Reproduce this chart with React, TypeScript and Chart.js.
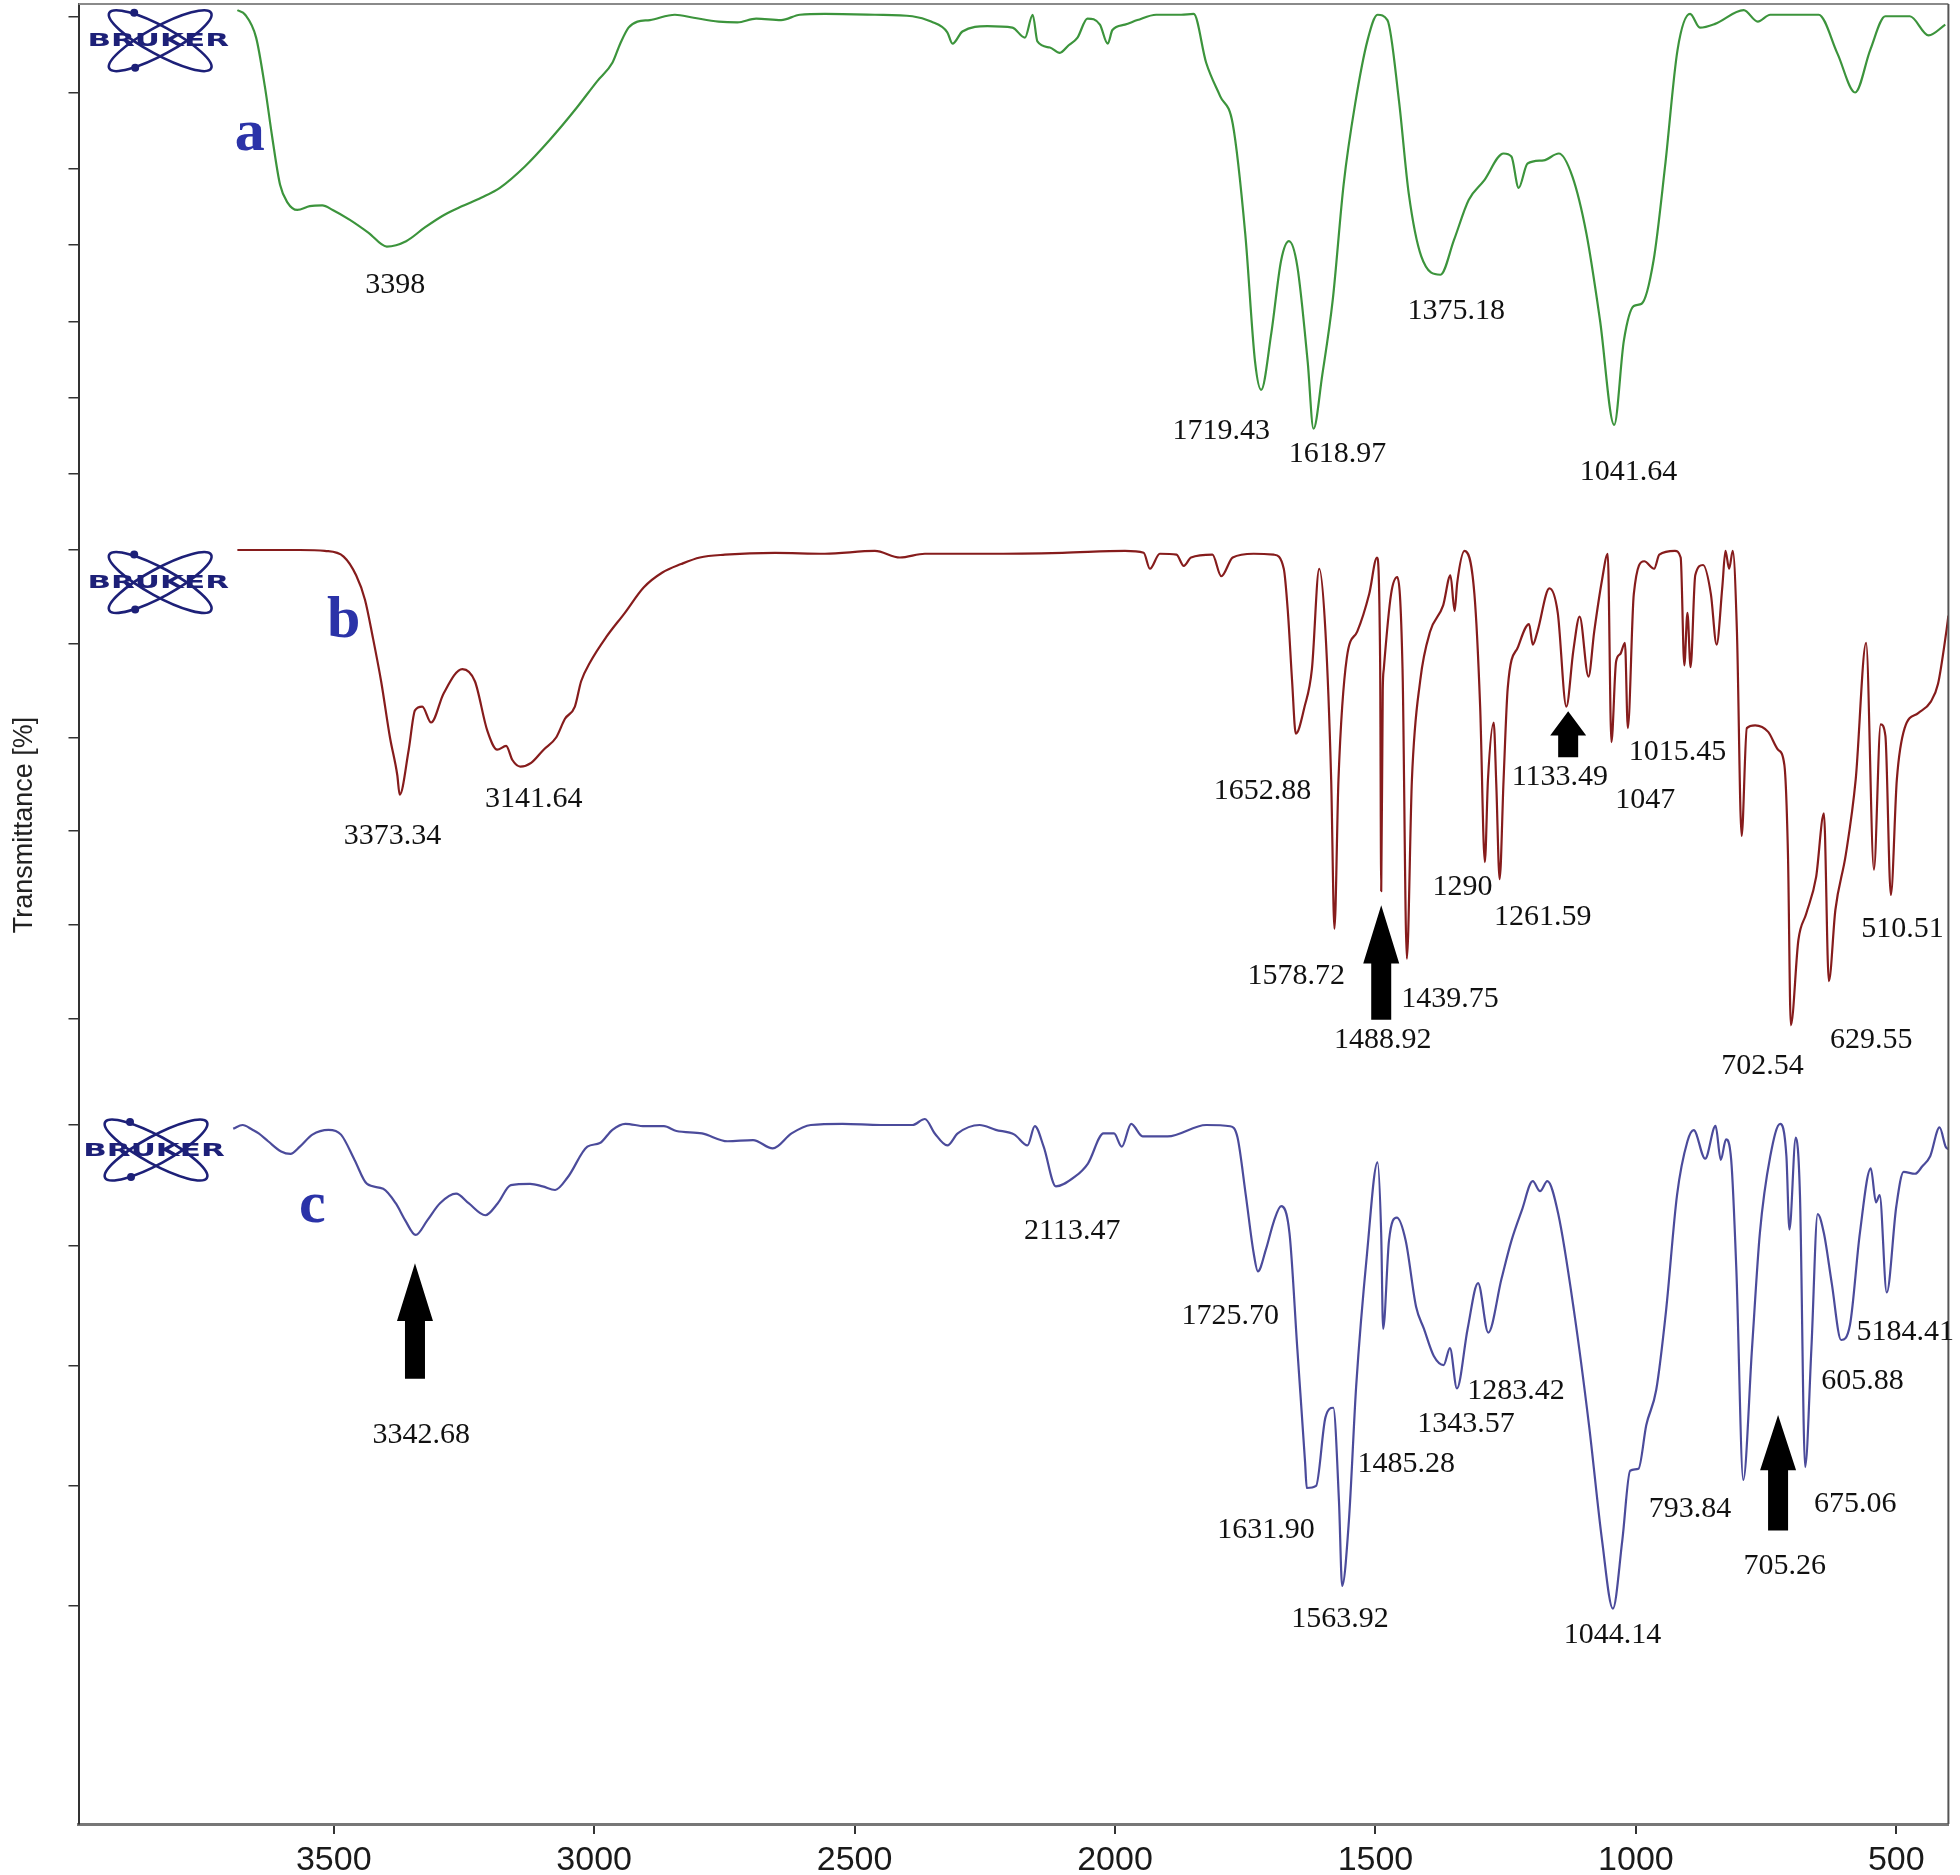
import React, { useEffect, useRef } from 'react';
import { Chart, registerables } from 'chart.js';

Chart.register(...registerables);

// ---------- axes ----------
const X_TICKS = [3500, 3000, 2500, 2000, 1500, 1000, 500];
const YA_TICKS = [100, 90, 80, 70, 60, 50, 40];
const YB_TICKS = [100, 90, 80, 70, 60, 50];
const YC_TICKS = [100, 90, 80, 70, 60];

// ---------- spectrum a ----------
const WN_A = [3685, 3670, 3649, 3632, 3618, 3603, 3589, 3570, 3546, 3522, 3502, 3469, 3433, 3398, 3361, 3325, 3289, 3253, 3217, 3181, 3133, 3085, 3037, 2994, 2965, 2950, 2934, 2917, 2893, 2845, 2809, 2761, 2725, 2689, 2641, 2605, 2557, 2461, 2389, 2353, 2322, 2312, 2293, 2245, 2197, 2173, 2158, 2149, 2125, 2106, 2089, 2072, 2053, 2029, 2014, 2005, 1981, 1957, 1921, 1873, 1849, 1825, 1798, 1774, 1750, 1731, 1719.43, 1700, 1681, 1666, 1650, 1630, 1618.97, 1602, 1582, 1561, 1539, 1515, 1496, 1477, 1455, 1436, 1412, 1375.18, 1349, 1321, 1292, 1254, 1239, 1225, 1208, 1177, 1148, 1122, 1095, 1069, 1041.64, 1023, 1004, 989, 966, 944, 920, 896, 877, 848, 793, 766, 742, 649, 613, 579, 550, 521, 474, 438, 406];
const T_A = [100.8, 100.2, 97.2, 90.7, 84.1, 77.9, 75.6, 74.6, 75.1, 75.2, 74.6, 73.3, 71.6, 69.8, 70.5, 72.3, 73.9, 75.1, 76.2, 77.5, 80.3, 83.8, 87.7, 91.5, 93.9, 96.4, 98.5, 99.3, 99.5, 100.2, 99.8, 99.3, 99.2, 99.7, 99.5, 100.2, 100.3, 100.2, 100.0, 99.3, 97.9, 96.4, 98.0, 98.7, 98.5, 97.2, 100.2, 96.7, 95.9, 95.2, 96.2, 97.2, 99.7, 98.9, 96.4, 98.2, 98.9, 99.5, 100.2, 100.2, 100.3, 93.9, 89.5, 85.9, 71.5, 54.6, 51.0, 58.4, 68.0, 70.5, 67.2, 54.6, 45.9, 53.0, 62.8, 78.0, 88.5, 96.9, 100.2, 99.5, 89.0, 76.7, 68.5, 66.1, 70.7, 75.9, 78.4, 82.0, 81.6, 77.5, 80.7, 81.1, 82.0, 79.0, 71.5, 60.2, 46.4, 57.5, 62.0, 62.3, 68.0, 80.3, 95.6, 100.3, 98.5, 99.0, 100.8, 99.3, 100.2, 100.2, 95.1, 90.0, 95.6, 100.0, 100.0, 97.5, 98.9];

// ---------- spectrum b ----------
const WN_B = [3685, 3565, 3517, 3481, 3457, 3440, 3425, 3409, 3392, 3378, 3373.34, 3356, 3344, 3330, 3313, 3289, 3253, 3229, 3205, 3186, 3169, 3157, 3141.64, 3121, 3097, 3073, 3056, 3037, 3025, 3008, 2977, 2941, 2905, 2869, 2833, 2797, 2749, 2653, 2557, 2461, 2413, 2365, 2245, 2101, 1981, 1945, 1933, 1914, 1882, 1868, 1854, 1813, 1796, 1774, 1734, 1695, 1676, 1668, 1660, 1652.88, 1636, 1622, 1608, 1596, 1585, 1578.72, 1571, 1555, 1535, 1512, 1497, 1491, 1488.92, 1486, 1484, 1470, 1458, 1448, 1439.75, 1430, 1414, 1395, 1370, 1356, 1348, 1343, 1329, 1310, 1299, 1290, 1284, 1273, 1268, 1261.59, 1254, 1246, 1226, 1205, 1198, 1189, 1166, 1150, 1133.49, 1120, 1108, 1091, 1080, 1065, 1054, 1047, 1038, 1030, 1021, 1015.45, 1004, 984, 965, 955, 925, 914, 907, 901, 895, 886, 871, 856, 845, 834, 828, 821, 814, 806, 797, 787, 771, 746, 727, 715, 708, 702.54, 688, 673, 654, 639, 629.55, 617, 597, 578, 558, 543, 530, 521, 510.51, 499, 484, 458, 434, 420, 404, 400];
const T_B = [100.0, 100.0, 99.9, 99.3, 97.3, 94.7, 90.7, 86.0, 80.0, 76.0, 73.9, 78.7, 82.9, 83.3, 81.6, 84.7, 87.3, 86.0, 80.7, 78.7, 79.1, 77.6, 76.9, 77.3, 78.7, 80.0, 82.0, 83.3, 86.0, 88.0, 90.7, 93.3, 96.0, 97.6, 98.5, 99.2, 99.5, 99.7, 99.6, 99.9, 99.2, 99.6, 99.6, 99.7, 99.9, 99.7, 98.0, 99.6, 99.5, 98.3, 99.2, 99.5, 97.2, 99.2, 99.6, 99.5, 98.0, 93.3, 86.0, 80.4, 83.3, 87.3, 98.0, 91.3, 75.5, 59.6, 75.5, 88.5, 91.3, 95.3, 99.2, 88.0, 63.6, 85.0, 87.3, 95.3, 97.1, 87.3, 56.4, 75.5, 86.1, 91.3, 94.1, 97.3, 93.5, 96.5, 99.9, 95.3, 83.3, 66.7, 75.5, 81.6, 75.0, 64.9, 75.5, 85.3, 89.7, 92.1, 89.9, 91.3, 95.9, 93.3, 83.3, 89.3, 92.9, 86.5, 91.3, 96.8, 99.6, 79.5, 88.1, 88.9, 90.1, 81.0, 95.3, 98.8, 98.0, 99.5, 99.9, 99.2, 87.7, 93.3, 87.5, 97.3, 98.4, 95.3, 89.9, 96.1, 99.9, 98.0, 99.9, 91.3, 69.5, 81.0, 81.3, 80.6, 78.7, 77.1, 67.5, 49.3, 58.4, 61.2, 65.1, 71.9, 54.0, 61.6, 67.5, 75.5, 90.1, 65.9, 81.4, 80.2, 63.2, 75.5, 81.0, 82.6, 83.8, 85.7, 91.3, 93.0];

// ---------- spectrum c ----------
const WN_C = [3693, 3675, 3656, 3644, 3626, 3601, 3583, 3565, 3541, 3510, 3486, 3460, 3436, 3405, 3381, 3363, 3342.68, 3320, 3296, 3265, 3241, 3209, 3185, 3160, 3123, 3099, 3075, 3050, 3013, 2989, 2965, 2940, 2903, 2866, 2842, 2793, 2744, 2695, 2657, 2621, 2584, 2523, 2450, 2389, 2365, 2346, 2322, 2302, 2260, 2229, 2193, 2168, 2154, 2137, 2113.47, 2077, 2052, 2022, 2002, 1987, 1969, 1947, 1899, 1825, 1779, 1765, 1749, 1734, 1725.7, 1710, 1695, 1681, 1665, 1650, 1635, 1631.9, 1614, 1596, 1581, 1570, 1563.92, 1551, 1537, 1516, 1496, 1489, 1485.28, 1474, 1459, 1442, 1422, 1407, 1388, 1369, 1357, 1343.57, 1323, 1303, 1283.42, 1258, 1239, 1219, 1198, 1184, 1170, 1149, 1119, 1090, 1065, 1044.14, 1026, 1011, 995, 980, 961, 942, 921, 901, 889, 867, 847, 837, 827, 817, 807, 793.84, 777, 762, 742, 723, 711, 705.26, 693, 685, 675.06, 663, 651, 639, 624, 605.88, 589, 570, 549, 539, 532, 518.41, 500, 486, 464, 450, 435, 417, 405, 400];
const T_C = [99.7, 100.0, 99.6, 99.3, 98.65, 97.8, 97.6, 98.2, 99.2, 99.6, 99.2, 97.1, 95.1, 94.7, 93.5, 92.1, 90.86, 92.1, 93.5, 94.3, 93.5, 92.5, 93.5, 95.0, 95.1, 94.9, 94.6, 95.7, 98.2, 98.5, 99.6, 100.1, 99.9, 99.9, 99.5, 99.3, 98.65, 98.75, 98.05, 99.3, 100.0, 100.1, 100.0, 100.0, 100.5, 99.3, 98.3, 99.3, 100.0, 99.6, 99.2, 98.3, 99.9, 98.2, 94.9, 95.7, 96.8, 99.3, 99.3, 98.2, 100.1, 99.06, 99.06, 100.0, 99.9, 99.0, 94.2, 89.4, 87.84, 89.7, 92.0, 93.25, 91.0, 81.4, 71.9, 69.83, 70.0, 75.7, 76.5, 68.7, 61.7, 67.1, 78.3, 89.4, 96.9, 91.0, 83.07, 90.4, 92.3, 90.4, 84.9, 83.07, 80.8, 80.05, 81.45, 78.1, 83.07, 86.86, 82.75, 87.22, 90.37, 92.9, 95.33, 94.5, 95.33, 92.6, 84.6, 75.06, 65.5, 59.8, 65.5, 71.26, 71.43, 75.06, 77.97, 84.6, 94.18, 98.65, 99.58, 97.2, 99.92, 97.1, 98.8, 97.1, 87.84, 70.5, 81.45, 91.0, 97.4, 100.1, 97.4, 91.32, 98.96, 94.2, 71.57, 81.45, 92.6, 91.0, 86.86, 82.13, 83.38, 91.0, 96.4, 93.56, 94.18, 86.08, 93.25, 96.1, 95.95, 96.57, 97.4, 99.8, 98.17, 98.0];

// ---------- annotations (text, wavenumber, panel value) ----------
const LABELS_A: [string, number, number][] = [
  ['3398', 3382, 64.75], ['1719.43', 1796, 45.57], ['1618.97', 1573, 42.62],
  ['1375.18', 1345, 61.31], ['1041.64', 1014, 40.16],
];
const LABELS_B: [string, number, number][] = [
  ['3373.34', 3387, 69.47], ['3141.64', 3116, 73.47], ['1652.88', 1717, 74.27],
  ['1578.72', 1652, 54.53], ['1488.92', 1486, 47.73], ['1439.75', 1357, 52.13],
  ['1290', 1333, 64.0], ['1261.59', 1179, 60.8], ['1133.49', 1146, 75.73],
  ['1047', 982, 73.33], ['1015.45', 920, 78.4], ['702.54', 757, 44.93],
  ['629.55', 548, 47.73], ['510.51', 488, 59.6],
];
const LABELS_C: [string, number, number][] = [
  ['3342.68', 3332, 74.23], ['2113.47', 2082, 91.17], ['1725.70', 1779, 84.1],
  ['1631.90', 1710, 66.33], ['1563.92', 1568, 58.96], ['1485.28', 1441, 71.84],
  ['1343.57', 1326, 75.17], ['1283.42', 1230, 77.87], ['1044.14', 1045, 57.61],
  ['793.84', 896, 68.1], ['705.26', 714, 63.33], ['675.06', 579, 68.52],
  ['605.88', 565, 78.7], ['5184.41', 483, 82.75],
];
// panel tags: axis, letter, wavenumber, value
const TAGS: [string, string, number, number][] = [
  ['ya', 'a', 3661, 84.43], ['yb', 'b', 3481, 92.4], ['yc', 'c', 3541, 93.25],
];
// logos: axis, wavenumber, value
const LOGOS: [string, number, number][] = [
  ['ya', 3837, 96.8], ['yb', 3837, 96.53], ['yc', 3845, 97.92],
];
// arrows: axis, wavenumber, tip value, head-base value, tail value
const ARROWS: [string, number, number, number, number][] = [
  ['yb', 1488.92, 62.1, 55.9, 49.9],
  ['yb', 1130, 82.8, 80.2, 77.9],
  ['yc', 3344, 88.5, 83.7, 78.9],
  ['yc', 727, 75.9, 71.3, 66.3],
];

const W = 1960;
const H = 1875;

const pts = (xs: number[], ys: number[]) => xs.map((x, i) => ({ x, y: ys[i] }));

function drawLogo(ctx: CanvasRenderingContext2D, cx: number, cy: number) {
  ctx.save();
  const col = '#1d2078';
  ctx.strokeStyle = col;
  ctx.lineWidth = 2.6;
  ctx.beginPath();
  ctx.ellipse(cx + 2, cy, 58, 14, 0.5, 0, Math.PI * 2);
  ctx.stroke();
  ctx.beginPath();
  ctx.ellipse(cx + 2, cy, 58, 14, -0.5, 0, Math.PI * 2);
  ctx.stroke();
  ctx.fillStyle = col;
  ctx.beginPath();
  ctx.arc(cx - 24, cy - 28, 4, 0, Math.PI * 2);
  ctx.fill();
  ctx.beginPath();
  ctx.arc(cx - 23, cy + 27, 4, 0, Math.PI * 2);
  ctx.fill();
  ctx.translate(cx, cy);
  ctx.scale(1.72, 1);
  ctx.font = 'bold 18px "DejaVu Sans", sans-serif';
  ctx.textAlign = 'center';
  ctx.textBaseline = 'middle';
  ctx.fillText('BRUKER', 0, 1);
  ctx.restore();
}

export default function App() {
  const ref = useRef<HTMLCanvasElement>(null);

  useEffect(() => {
    const canvas = ref.current;
    if (!canvas) return;

    const overlay = {
      id: 'overlay',
      afterDraw(chart: any) {
        const ctx: CanvasRenderingContext2D = chart.ctx;
        const { left, right, top, bottom } = chart.chartArea;
        const xs = chart.scales.x;
        ctx.save();
        ctx.strokeStyle = '#8a8a8a';
        ctx.lineWidth = 2;
        ctx.beginPath();
        ctx.moveTo(left, top);
        ctx.lineTo(right, top);
        ctx.stroke();
        ctx.strokeStyle = '#555';
        ctx.beginPath();
        ctx.moveTo(right, top);
        ctx.lineTo(right, bottom);
        ctx.stroke();

        LOGOS.forEach(([ax, wn, v]) => {
          drawLogo(ctx, xs.getPixelForValue(wn), chart.scales[ax].getPixelForValue(v));
        });

        ctx.fillStyle = '#2b33a8';
        ctx.font = 'bold 60px "Liberation Serif", serif';
        ctx.textAlign = 'center';
        ctx.textBaseline = 'middle';
        TAGS.forEach(([ax, t, wn, v]) => {
          ctx.fillText(t, xs.getPixelForValue(wn), chart.scales[ax].getPixelForValue(v));
        });

        ctx.fillStyle = '#000';
        ARROWS.forEach(([ax, wn, tip, head, tail]) => {
          const ys = chart.scales[ax];
          const x = xs.getPixelForValue(wn);
          const yt = ys.getPixelForValue(tip);
          const yh = ys.getPixelForValue(head);
          const yb = ys.getPixelForValue(tail);
          const hw = 18;
          const sw = 10;
          ctx.beginPath();
          ctx.moveTo(x, yt);
          ctx.lineTo(x + hw, yh);
          ctx.lineTo(x + sw, yh);
          ctx.lineTo(x + sw, yb);
          ctx.lineTo(x - sw, yb);
          ctx.lineTo(x - sw, yh);
          ctx.lineTo(x - hw, yh);
          ctx.closePath();
          ctx.fill();
        });

        ctx.fillStyle = '#111';
        ctx.font = '30px "Liberation Serif", "Times New Roman", serif';
        ctx.textAlign = 'center';
        ctx.textBaseline = 'middle';
        const put = (ax: string, list: [string, number, number][]) => {
          list.forEach(([t, wn, v]) => {
            ctx.fillText(t, xs.getPixelForValue(wn), chart.scales[ax].getPixelForValue(v));
          });
        };
        put('ya', LABELS_A);
        put('yb', LABELS_B);
        put('yc', LABELS_C);
        ctx.restore();
      },
    };

    const yAxis = (min: number, max: number, weight: number, ticks: number[], extra: any = {}) => ({
      type: 'linear',
      position: 'left',
      stack: 'ir',
      stackWeight: weight,
      min,
      max,
      afterBuildTicks: (s: any) => {
        s.ticks = ticks.map((v) => ({ value: v }));
      },
      afterFit: (s: any) => {
        s.width = 78.5;
      },
      ticks: { display: false },
      grid: { drawOnChartArea: false, drawTicks: true, tickLength: 10, color: '#333', lineWidth: 1.5 },
      border: { display: true, color: '#333', width: 2 },
      ...extra,
    });

    const lineDs = (label: string, xsArr: number[], ysArr: number[], axis: string, color: string) => ({
      label,
      data: pts(xsArr, ysArr),
      xAxisID: 'x',
      yAxisID: axis,
      borderColor: color,
      borderWidth: 2.2,
      pointRadius: 0,
      cubicInterpolationMode: 'monotone',
      borderJoinStyle: 'round',
    });

    const chart = new Chart(canvas, {
      type: 'line',
      data: {
        datasets: [
          lineDs('a', WN_A, T_A, 'ya', '#3c943c'),
          lineDs('b', WN_B, T_B, 'yb', '#861c1c'),
          lineDs('c', WN_C, T_C, 'yc', '#4b4b9b'),
        ],
      },
      options: {
        responsive: false,
        animation: false,
        events: [],
        layout: { padding: { left: 0, right: 11.6, top: 4, bottom: 0 } },
        plugins: { legend: { display: false }, tooltip: { enabled: false } },
        scales: {
          x: {
            type: 'linear',
            position: 'bottom',
            reverse: true,
            min: 400,
            max: 3990,
            afterBuildTicks: (s: any) => {
              s.ticks = X_TICKS.map((v) => ({ value: v }));
            },
            afterFit: (s: any) => {
              s.height = 51;
            },
            ticks: {
              color: '#1a1a1a',
              font: { family: '"Liberation Sans", Arial, sans-serif', size: 34 },
              padding: 6,
              maxRotation: 0,
              autoSkip: false,
              callback: (v: any) => String(v),
            },
            grid: { drawOnChartArea: false, drawTicks: true, tickLength: 10, color: '#333', lineWidth: 2 },
            border: { display: true, color: '#777', width: 3 },
          },
          yc: yAxis(41.9, 101.04, 711.5, YC_TICKS),
          yb: yAxis(40.0, 101.333, 575, YB_TICKS, {
            title: {
              display: true,
              text: 'Transmittance [%]',
              color: '#222',
              font: { family: '"Liberation Sans", Arial, sans-serif', size: 27 },
              padding: { top: 8, bottom: 0 },
            },
          }),
          ya: yAxis(31.64, 101.607, 533.5, YA_TICKS),
        } as any,
      },
      plugins: [overlay],
    } as any);

    return () => chart.destroy();
  }, []);

  return (
    <div style={{ position: 'absolute', left: 0, top: 0, width: W, height: H, background: '#fff' }}>
      <canvas ref={ref} width={W} height={H} style={{ display: 'block', width: W, height: H }} />
    </div>
  );
}
